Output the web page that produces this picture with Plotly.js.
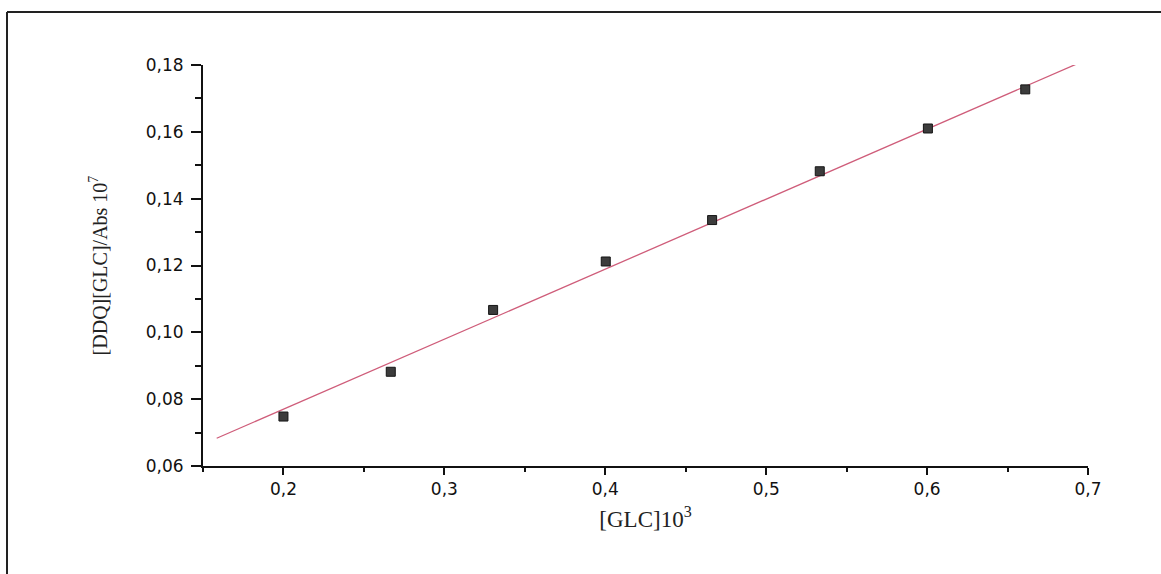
<!DOCTYPE html>
<html>
<head>
<meta charset="utf-8">
<script src="https://cdn.plot.ly/plotly-3.0.1.min.js"></script>
<style>html,body{margin:0;padding:0;background:#fff;}#chart{width:1161px;height:574px;}</style>
</head>
<body>
<div id="chart"></div>
<script>
// Measured points
const glc = [0.2, 0.2667, 0.3303, 0.4003, 0.4664, 0.5333, 0.6005, 0.661];
const ratio = [0.0748, 0.0882, 0.1067, 0.1212, 0.1336, 0.1482, 0.1610, 0.1727];
// Linear fit line endpoints
const fitX = [0.1585, 0.6939];
const fitY = [0.0683, 0.1805];

const xTitle = '[GLC]10<sup>3</sup>';
const yTitle = '[DDQ][GLC]/Abs 10<sup>7</sup>';

const L = 203, R = 1088, T = 65, B = 466, W = 1161, H = 574;
const pw = R - L, ph = B - T;
const px = v => (v - L) / pw;
const py = v => (B - v) / ph;

const traces = [
  {x: fitX, y: fitY, mode: 'lines', type: 'scatter',
   line: {color: '#cf5d7a', width: 1.3}, hoverinfo: 'skip'},
  {x: glc, y: ratio, mode: 'markers', type: 'scatter',
   marker: {symbol: 'square', size: 9, color: '#3c3c3c', line: {color: '#151515', width: 1}}}
];

const tickFont = {family: '"DejaVu Sans", "Liberation Sans", sans-serif', size: 17, color: '#111'};
const titleFont = {family: '"Liberation Serif", "Times New Roman", serif', size: 20, color: '#222'};

const layout = {
  width: W, height: H,
  margin: {l: L, r: W - R, t: T, b: H - B},
  paper_bgcolor: '#fff', plot_bgcolor: '#fff',
  showlegend: false,
  separators: ',.',
  xaxis: {
    range: [0.15, 0.7], dtick: 0.1, tick0: 0, tickformat: '.1f',
    showgrid: false, zeroline: false,
    showline: true, linecolor: '#111', linewidth: 2,
    ticks: 'outside', ticklen: 7, tickwidth: 2, tickcolor: '#111',
    minor: {dtick: 0.05, tick0: 0, ticklen: 4, tickwidth: 2, tickcolor: '#111', ticks: 'outside', showgrid: false},
    tickfont: tickFont,
    title: {text: xTitle, font: {family: titleFont.family, size: 23, color: '#222'}, standoff: 12}
  },
  yaxis: {
    range: [0.06, 0.18], dtick: 0.02, tick0: 0, tickformat: '.2f',
    showgrid: false, zeroline: false,
    showline: true, linecolor: '#111', linewidth: 2,
    ticks: 'outside', ticklen: 10, tickwidth: 2, tickcolor: '#111',
    ticklabelstandoff: 4,
    minor: {dtick: 0.01, tick0: 0, ticklen: 6, tickwidth: 2, tickcolor: '#111', ticks: 'outside', showgrid: false},
    tickfont: tickFont,
    title: {text: yTitle, font: titleFont, standoff: 33}
  },
  shapes: [
    {type: 'line', xref: 'paper', yref: 'paper', x0: px(7), x1: px(1161), y0: py(12), y1: py(12),
     line: {color: '#222', width: 2}},
    {type: 'line', xref: 'paper', yref: 'paper', x0: px(7), x1: px(7), y0: py(12), y1: py(574),
     line: {color: '#222', width: 2}}
  ]
};

Plotly.newPlot('chart', traces, layout, {displayModeBar: false, staticPlot: true});
</script>
</body>
</html>
